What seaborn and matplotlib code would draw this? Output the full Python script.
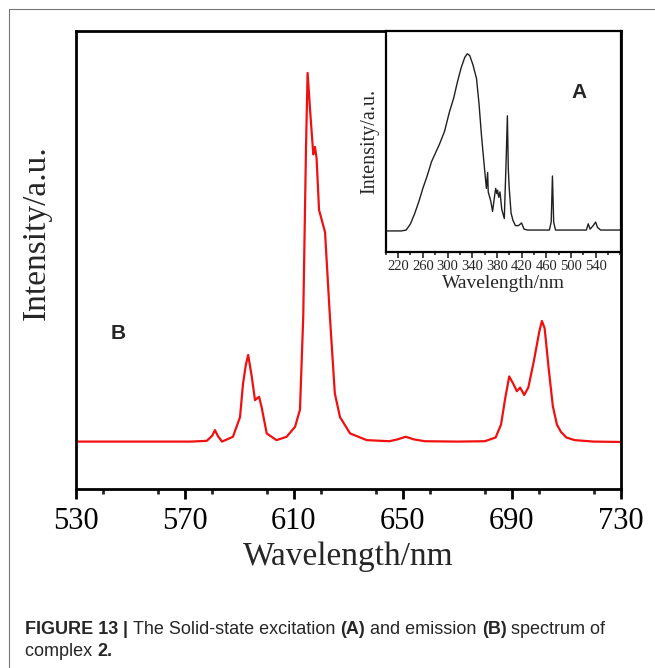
import numpy as np
import pandas as pd
import matplotlib
matplotlib.use("Agg")
import matplotlib.pyplot as plt
from matplotlib.lines import Line2D
from matplotlib.ticker import MultipleLocator
import seaborn as sns

# emission spectrum (B), main panel
em_nm = [530, 560, 572, 578, 580, 581, 582, 583.6, 587.6, 590.2, 591.3, 592.3, 593.2, 594.5,
         595.7, 597.2, 598.1, 600, 603.6, 607.3, 610.4, 612.2, 613.4, 614.4, 615, 616.1,
         617.1, 617.7, 618.3, 619.2, 621.4, 623.2, 625, 626.9, 630.6, 636.7, 645, 648,
         651, 654, 658, 670, 680, 684, 686, 687.5, 689, 690.5, 691.8, 693, 694.5, 696,
         698, 700, 701, 702, 703.5, 705, 706.5, 708, 710, 713, 720, 730]
em_int = [0.004, 0.004, 0.004, 0.006, 0.02, 0.035, 0.02, 0.004, 0.017, 0.07, 0.16, 0.21, 0.238, 0.18,
          0.116, 0.125, 0.098, 0.026, 0.008, 0.017, 0.044, 0.09, 0.34, 0.79, 1.0, 0.88,
          0.78, 0.80, 0.77, 0.63, 0.57, 0.34, 0.134, 0.07, 0.026, 0.008, 0.005, 0.01,
          0.017, 0.01, 0.005, 0.004, 0.005, 0.015, 0.05, 0.12, 0.18, 0.16, 0.14, 0.15, 0.13, 0.15,
          0.22, 0.30, 0.33, 0.31, 0.20, 0.10, 0.05, 0.03, 0.015, 0.008, 0.004, 0.003]

# excitation spectrum (A), inset
ex_nm = [200, 225, 233, 240, 247, 254, 260, 267, 274, 287, 295, 303, 310, 316, 322, 328,
         332, 336, 341, 347, 351, 355, 360, 363, 365, 366, 370, 373, 376, 378, 380, 381,
         383, 385, 388, 392, 395, 397, 398.5, 400, 403, 406, 410, 415, 420, 424, 430,
         465, 468, 470, 472, 475, 525, 528, 531, 536, 540, 543, 548, 580]
ex_int = [0, 0, 0.005, 0.04, 0.1, 0.17, 0.24, 0.31, 0.39, 0.49, 0.56, 0.67, 0.75, 0.84, 0.92, 0.98,
          1.0, 0.99, 0.94, 0.86, 0.72, 0.54, 0.35, 0.24, 0.33, 0.22, 0.17, 0.11, 0.19, 0.24, 0.21, 0.23,
          0.19, 0.22, 0.12, 0.07, 0.4, 0.65, 0.35, 0.24, 0.10, 0.06, 0.03, 0.03, 0.045, 0.01, 0.005,
          0.005, 0.05, 0.31, 0.05, 0.005, 0.005, 0.04, 0.01, 0.03, 0.05, 0.02, 0.005, 0.005]

main_ticks = [530, 570, 610, 650, 690, 730]
inset_ticks = [220, 260, 300, 340, 380, 420, 460, 500, 540]

sns.set_style("ticks")
plt.rcParams["font.family"] = ["Liberation Serif", "DejaVu Serif"]

em_df = pd.DataFrame({"nm": em_nm, "I": em_int})
ex_df = pd.DataFrame({"nm": ex_nm, "I": ex_int})

fig = plt.figure(figsize=(6.55, 6.68), dpi=100)

ax = fig.add_axes([0.116, 0.268, 0.832, 0.686])
sns.lineplot(data=em_df, x="nm", y="I", ax=ax, color="#f01010", lw=1.6)
ax.set_xlim(530, 730)
ax.set_ylim(-0.124, 1.114)
ax.set_xticks(main_ticks)
ax.xaxis.set_minor_locator(MultipleLocator(20))
ax.set_yticks([])
ax.tick_params(axis="x", which="major", direction="out", length=7, width=2,
               labelsize=22, pad=6, colors="black")
ax.tick_params(axis="x", which="minor", direction="out", length=3.5, width=2)
for s in ax.spines.values():
    s.set_linewidth(2)
    s.set_color("black")
ax.set_xlabel("Wavelength/nm", fontsize=24, labelpad=4)
ax.set_ylabel("Intensity/a.u.", fontsize=24)
ax.yaxis.set_label_coords(-0.044, 0.56)
ax.text(0.078, 0.34, "B", transform=ax.transAxes, fontsize=15, fontweight="bold",
        family="Liberation Sans", ha="center", va="center")

ins = fig.add_axes([0.589, 0.623, 0.359, 0.331])
sns.lineplot(data=ex_df, x="nm", y="I", ax=ins, color="#202020", lw=1.0)
ins.set_xlim(200, 581)
ins.set_ylim(-0.118, 1.13)
ins.set_xticks(inset_ticks)
ins.xaxis.set_minor_locator(MultipleLocator(20))
ins.set_yticks([])
ins.tick_params(axis="x", which="major", direction="out", length=4, width=1.2,
                labelsize=10.5, pad=2)
ins.tick_params(axis="x", which="minor", direction="out", length=2, width=1.2)
for s in ins.spines.values():
    s.set_linewidth(1.6)
    s.set_color("black")
ins.set_xlabel("Wavelength/nm", fontsize=14, labelpad=1)
ins.set_ylabel("Intensity/a.u.", fontsize=14.5, labelpad=5)
ins.text(0.82, 0.72, "A", transform=ins.transAxes, fontsize=15, fontweight="bold",
         family="Liberation Sans", ha="center", va="center")

# outer frame lines of the figure panel
fig.add_artist(Line2D([0.0137, 1.0], [0.9865, 0.9865], color="#777777", lw=0.8))
fig.add_artist(Line2D([0.0137, 0.0137], [0.0, 0.9865], color="#777777", lw=0.8))

# caption with mixed weights
cap_font = ["Liberation Sans Narrow", "Liberation Sans"]
renderer = fig.canvas.get_renderer()
parts = [("FIGURE 13 ", "bold"), ("| ", "bold"), ("The Solid-state excitation ", "normal"),
         ("(A)", "bold"), (" and emission ", "normal"), ("(B)", "bold"),
         (" spectrum of", "normal")]
x = 0.038
for txt, w in parts:
    t = fig.text(x, 0.058, txt, fontsize=13, fontweight=w, family=cap_font, va="center")
    x += t.get_window_extent(renderer).width / fig.bbox.width
t = fig.text(0.038, 0.024, "complex ", fontsize=13, family=cap_font, va="center")
fig.text(0.038 + t.get_window_extent(renderer).width / fig.bbox.width, 0.024, "2.",
         fontsize=13, fontweight="bold", family=cap_font, va="center")

fig.savefig("out.png", dpi=100)
